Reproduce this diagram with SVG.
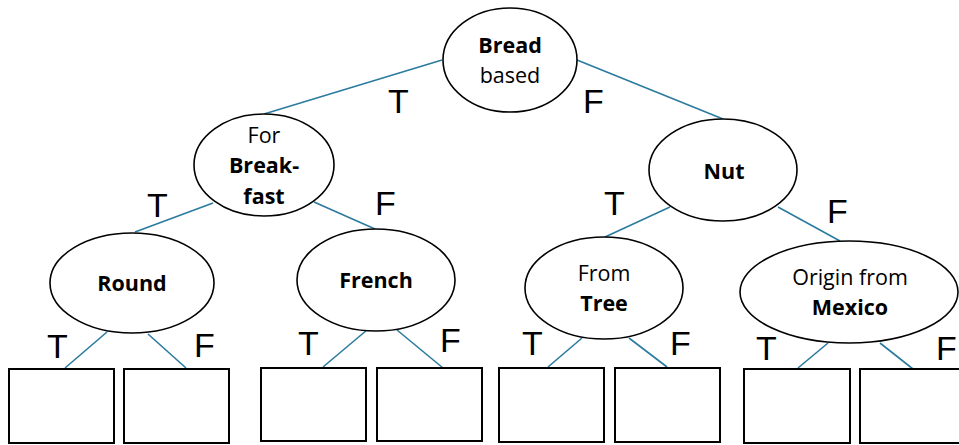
<svg xmlns="http://www.w3.org/2000/svg" width="959" height="445" viewBox="0 0 959 445">
<style>
.n{fill:#fff;stroke:#000;stroke-width:1.6}
.b{fill:#fff;stroke:#000;stroke-width:2}
.c line{stroke:#2b7a9f;stroke-width:1.6}
.t{font-family:"Open Sans","Noto Sans",sans-serif;font-size:21.5px;fill:#000;text-anchor:middle}
.bd{font-weight:bold}
.l{font-family:"Liberation Sans",Arial,sans-serif;font-size:34px;fill:#000}
</style>
<rect width="959" height="445" fill="#fff"/>
<g class="c" id="connectors">
<line x1="442" y1="60" x2="264" y2="114"/>
<line x1="577" y1="60" x2="723" y2="119"/>
<line x1="213" y1="203" x2="135" y2="232"/>
<line x1="314" y1="202" x2="375" y2="229"/>
<line x1="670" y1="207" x2="605" y2="237"/>
<line x1="778" y1="207" x2="840" y2="241"/>
<line x1="107" y1="332" x2="65" y2="368"/>
<line x1="148" y1="334" x2="186" y2="368"/>
<line x1="367" y1="330" x2="323" y2="367"/>
<line x1="397" y1="330" x2="443" y2="368"/>
<line x1="582" y1="338" x2="548" y2="367"/>
<line x1="629" y1="338" x2="667" y2="367"/>
<line x1="828" y1="343" x2="798" y2="368"/>
<line x1="880" y1="343" x2="913" y2="369"/>
</g>
<g id="labels">
<text class="l" x="388" y="113">T</text>
<text class="l" x="583" y="113">F</text>
<text class="l" x="147" y="217">T</text>
<text class="l" x="375" y="215">F</text>
<text class="l" x="604" y="215">T</text>
<text class="l" x="827" y="223">F</text>
<text class="l" x="47" y="358">T</text>
<text class="l" x="194" y="357">F</text>
<text class="l" x="298" y="355">T</text>
<text class="l" x="440" y="352">F</text>
<text class="l" x="522" y="355">T</text>
<text class="l" x="670" y="355">F</text>
<text class="l" x="756" y="360">T</text>
<text class="l" x="936" y="360">F</text>
</g>
<g id="node-bread"><ellipse class="n" cx="510" cy="60" rx="67" ry="52"/><text class="t bd" x="510" y="53">Bread</text><text class="t" x="510" y="83">based</text></g>
<g id="node-breakfast"><ellipse class="n" cx="264" cy="165" rx="70" ry="51"/><text class="t" x="264" y="143">For</text><text class="t bd" x="264" y="173">Break-</text><text class="t bd" x="264" y="204">fast</text></g>
<g id="node-nut"><ellipse class="n" cx="723" cy="170" rx="74" ry="51"/><text class="t bd" x="724" y="179">Nut</text></g>
<g id="node-round"><ellipse class="n" cx="132" cy="283" rx="82" ry="50"/><text class="t bd" x="132" y="291">Round</text></g>
<g id="node-french"><ellipse class="n" cx="376" cy="280" rx="79" ry="51"/><text class="t bd" x="376" y="288">French</text></g>
<g id="node-tree"><ellipse class="n" cx="604" cy="288" rx="79" ry="51"/><text class="t" x="604" y="281">From</text><text class="t bd" x="604" y="311">Tree</text></g>
<g id="node-mexico"><ellipse class="n" cx="849" cy="292" rx="109" ry="51"/><text class="t" x="850" y="285">Origin from</text><text class="t bd" x="850" y="315">Mexico</text></g>
<g id="leaf-1"><rect class="b" x="9" y="369" width="105" height="74"/></g>
<g id="leaf-2"><rect class="b" x="124" y="369" width="105" height="74"/></g>
<g id="leaf-3"><rect class="b" x="261" y="368" width="105" height="73"/></g>
<g id="leaf-4"><rect class="b" x="377" y="368" width="105" height="73"/></g>
<g id="leaf-5"><rect class="b" x="499" y="368" width="105" height="74"/></g>
<g id="leaf-6"><rect class="b" x="615" y="368" width="105" height="74"/></g>
<g id="leaf-7"><rect class="b" x="744" y="369" width="106" height="74"/></g>
<g id="leaf-8"><rect class="b" x="860" y="369" width="106" height="74"/></g>
</svg>
